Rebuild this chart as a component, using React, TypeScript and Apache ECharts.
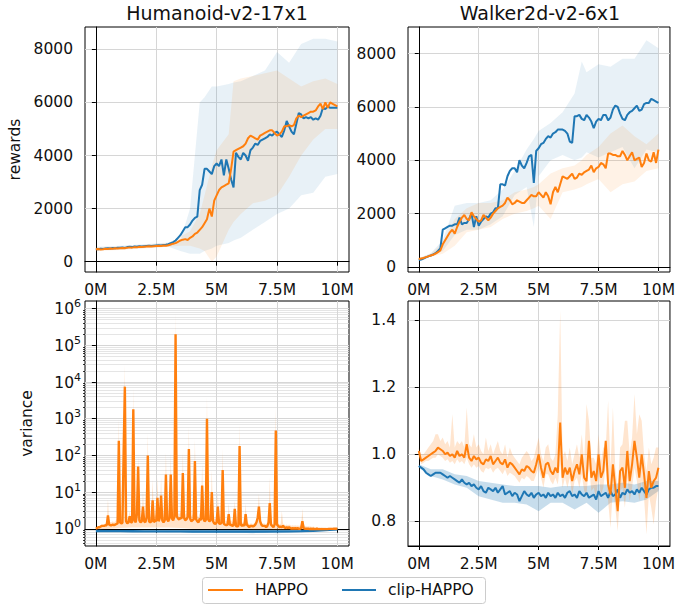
import React, { useEffect, useRef } from 'react';
import * as echarts from 'echarts';

const ORANGE = '#ff7f0e';
const BLUE = '#1f77b4';
const FONT = 'DejaVu Sans';

// ---------- shared tick labels ----------
const xTicks = [0, 2.5, 5, 7.5, 10];
const rewardTicks = [0, 2000, 4000, 6000, 8000];
const logTicks = [0, 1, 2, 3, 4, 5, 6];
const linVarTicks = [0.8, 1.0, 1.2, 1.4];

// x grids (in millions of steps)
const x101 = Array.from({ length: 101 }, (_, i) => +(i * 0.1).toFixed(2));
const x201 = Array.from({ length: 201 }, (_, i) => +(i * 0.05).toFixed(2));
const x21 = Array.from({ length: 21 }, (_, i) => +(i * 0.5).toFixed(2));

// ---------- Humanoid rewards ----------
const humClip = [
  480, 470, 490, 480, 500, 510, 500, 520, 510, 530,
  530, 540, 520, 550, 560, 550, 570, 560, 580, 570,
  580, 590, 600, 590, 600, 610, 620, 610, 630, 640,
  660, 700, 740, 800, 900, 1000, 1150, 1300, 1300, 1400,
  1550, 1650, 1700, 2700, 2900, 3500, 3500, 3400, 3300, 3600,
  3700, 3600, 3850, 3250, 3850, 3500, 3100, 2800, 4100, 3950,
  3850, 4100, 4000, 3800, 4200, 4300, 4450, 4400, 4550, 4600,
  4650, 4700, 4800, 4750, 4850, 4900, 4800, 4700, 4950, 5300,
  5100, 4900, 4800, 5200, 5600, 5550, 5400, 5450, 5400, 5450,
  5350, 5400, 5350, 5500, 5800, 5750, 5850, 5800, 5800, 5800,
  5800,
];
const humHappo = [
  470, 480, 460, 470, 490, 480, 500, 490, 510, 500,
  510, 520, 510, 530, 540, 530, 550, 540, 560, 550,
  560, 570, 580, 570, 580, 590, 600, 590, 610, 600,
  620, 650, 680, 700, 750, 800, 830, 850, 820, 900,
  950, 1050, 1100, 1200, 1300, 1450, 1600, 2000, 1700, 2300,
  2500, 2700, 2800, 2850, 2900, 2950, 3500, 4150, 4200, 4250,
  4300, 4350, 4450, 4650, 4750, 4700, 4650, 4600, 4750, 4800,
  4850, 4900, 4950, 4950, 4850, 4750, 4800, 4900, 5100, 5100,
  5150, 5100, 5150, 5400, 5500, 5450, 5500, 5550, 5600, 5650,
  5650, 5700, 5850, 5950, 5750, 6000, 5800, 6000, 5950, 5900,
  5850,
];
const humBandX = [0, 1, 2, 3, 3.5, 3.9, 4.3, 4.5, 4.8, 5, 5.5, 5.7, 6, 6.5, 7, 7.5, 8, 8.5, 9, 9.5, 10];
const humClipUp = [560, 600, 660, 720, 800, 2000, 6000, 6200, 6600, 6600, 6700, 6750, 6800, 7000, 7200, 7900, 7500, 8200, 8400, 8400, 8300];
const humClipLo = [420, 460, 520, 560, 400, 300, 300, 400, 500, 600, 700, 800, 900, 1200, 1500, 1800, 2000, 2500, 2600, 3200, 3300];
const humHappoUp = [540, 560, 640, 700, 950, 1150, 1800, 2500, 3600, 4200, 4800, 6800, 6900, 7000, 7100, 7200, 6900, 6600, 6800, 6900, 6700];
const humHappoLo = [400, 440, 500, 560, 600, 600, 500, 400, 0, 200, 1200, 1500, 1800, 2200, 2300, 2500, 3200, 4000, 4600, 5000, 5000];

// ---------- Walker2d rewards ----------
const walkClip = [
  260, 280, 320, 360, 400, 430, 470, 520, 600, 700,
  1400, 1450, 1500, 1550, 1550, 1600, 1600, 1850, 1600, 1650,
  1650, 1800, 2000, 1500, 1900, 1550, 1700, 1800, 1900, 1850,
  2000, 2050, 2200, 2200, 3100, 3100, 3050, 3400, 3600, 3700,
  3700, 3550, 4000, 3800, 3700, 3900, 4150, 4200, 3150, 4350,
  4450, 4600, 4650, 4800, 4900, 4850, 5000, 5050, 5150, 5150,
  5150, 5100, 5000, 4700, 4650, 5650, 5650, 5700, 5550, 5500,
  5700, 5600, 5450, 5200, 5450, 5550, 5500, 5700, 5700, 5500,
  5600, 5900, 6050, 6000, 5750, 5550, 5500, 5700, 5800, 5850,
  5950, 6050, 5850, 5900, 6100, 6150, 6150, 6300, 6250, 6200,
  6150,
];
const walkHappo = [
  300, 320, 340, 370, 400, 430, 460, 500, 560, 620,
  850, 1000, 1150, 1300, 1400, 1250, 1500, 1700, 1850, 1950,
  1800, 1750, 2050, 1900, 1800, 1700, 1750, 1950, 1850, 1750,
  1850, 2000, 2100, 2200, 2250, 2300, 2400, 2600, 2500, 2350,
  2400, 2500, 2450, 2400, 2400, 2500, 2600, 2700, 2650, 2650,
  2800, 2700, 2600, 2800, 2650, 2350, 2800, 3000, 2800, 3100,
  3400, 3350, 3300, 3400, 3500, 3300, 3350, 3500, 3450, 3550,
  3600, 3650, 3800, 3550, 3700, 3750, 3900, 3850, 3700, 4250,
  4250, 4200, 4200, 4150, 4150, 4350, 4200, 4000, 4150, 4300,
  4000, 4050, 4100, 3750, 3900, 4250, 4000, 3950, 4300, 3900,
  4400,
];
const walkBandX = [0, 0.5, 1.0, 1.5, 2.0, 2.5, 3.0, 3.5, 4.0, 4.5, 4.8, 5.0, 5.5, 6.0, 6.5, 6.8, 7.0, 7.5, 8.0, 8.5, 9.0, 9.5, 10.0];
const walkClipUp = [320, 520, 1000, 2300, 2400, 2400, 2500, 2900, 3600, 4400, 4800, 5100, 5400, 5800, 6500, 7700, 7300, 7600, 7500, 7800, 7800, 8500, 8200];
const walkClipLo = [240, 400, 600, 1200, 1400, 1400, 1600, 1900, 2700, 3000, 1500, 3400, 4000, 4200, 4000, 4100, 4300, 4100, 4300, 4500, 3700, 4400, 4300];
const walkHappoUp = [340, 500, 900, 1800, 2200, 2400, 2400, 2500, 2800, 2900, 3000, 3100, 3500, 3700, 3800, 4000, 4200, 4500, 5000, 5300, 4900, 4600, 5000];
const walkHappoLo = [280, 380, 500, 800, 1300, 1400, 1500, 1800, 2000, 2100, 2200, 2300, 1800, 2800, 2900, 3000, 3100, 3300, 2800, 3100, 3200, 3600, 3700];

// ---------- Humanoid variance (log scale), x step 0.05M ----------
const hvHappo = [
  1.0, 1.05, 1.1, 1.1, 1.15, 1.2, 1.2, 1.2, 1.25, 1.25,
  2.3, 1.3, 1.25, 1.25, 1.3, 1.25, 1.3, 1.35, 1.4, 250,
  1.5, 1.4, 1.45, 120, 7500, 1.6, 1.4, 1.5, 2.2, 1.5,
  1.5, 1800, 1.7, 1.5, 2.5, 50, 1.7, 1.5, 1.6, 4.0,
  1.6, 1.5, 2.0, 100, 1.6, 1.5, 1.6, 6.0, 1.5, 1.7,
  1.6, 7.0, 1.6, 2.0, 8.0, 1.7, 1.5, 1.7, 30, 1.8,
  1.6, 2.0, 30, 1.9, 1.7, 2.1, 200000, 2.2, 1.9, 1.8,
  2.0, 1.9, 33, 2.0, 1.7, 1.8, 2.1, 150, 1.9, 1.6,
  1.7, 1.8, 70, 1.8, 1.6, 1.5, 1.9, 1.7, 15, 1.9,
  1.6, 1.7, 1000, 1.8, 1.6, 1.7, 10, 1.6, 1.4, 1.35,
  1.5, 4.0, 1.4, 1.35, 1.45, 40, 1.35, 1.3, 1.25, 1.3,
  2.5, 1.25, 1.3, 1.2, 1.25, 3.5, 1.2, 1.15, 1.2, 180,
  1.3, 1.2, 1.3, 1.2, 2.5, 1.3, 1.2, 1.1, 1.2, 1.2,
  1.15, 1.2, 1.3, 1.5, 2.0, 4.0, 1.6, 1.3, 1.2, 1.2,
  1.2, 1.1, 1.2, 1.5, 5.0, 1.3, 1.2, 1.1, 1.3, 480,
  1.3, 1.2, 1.1, 1.15, 1.1, 1.2, 1.1, 1.05, 1.1, 1.05,
  1.1, 1.05, 1.0, 1.05, 1.0, 1.05, 1.0, 1.05, 1.0, 1.0,
  1.05, 1.6, 1.05, 1.0, 1.0, 1.0, 1.0, 0.98, 1.0, 0.98,
  1.0, 0.98, 0.98, 1.0, 0.98, 0.98, 0.98, 0.98, 0.98, 0.98,
  0.98, 0.98, 0.98, 0.99, 0.99, 0.99, 0.99, 1.0, 1.0, 1.0,
  1.0,
];
const hvHappoUp = [
  1.05, 1.1, 1.15, 1.2, 1.25, 1.3, 1.3, 1.35, 1.4, 1.45,
  6.3, 1.6, 1.5, 1.5, 1.6, 1.5, 1.6, 1.8, 1.9, 1000,
  2.0, 1.8, 1.9, 160, 30000, 2.2, 1.9, 2.0, 3.0, 2.1,
  2.2, 7000, 2.4, 2.0, 3.5, 100, 2.4, 2.0, 2.2, 10,
  2.2, 2.0, 2.8, 400, 2.2, 2.0, 2.2, 22, 2.0, 2.4,
  2.2, 25, 2.2, 2.8, 25, 2.3, 2.0, 2.4, 120, 2.6,
  2.2, 2.8, 120, 2.7, 2.4, 3.0, 800000, 3.2, 2.7, 2.5,
  2.8, 2.7, 120, 2.8, 2.4, 2.6, 3.0, 600, 2.7, 2.2,
  2.4, 2.6, 280, 2.6, 2.2, 2.1, 2.7, 2.4, 60, 2.7,
  2.2, 2.4, 4000, 2.6, 2.3, 2.5, 40, 2.2, 1.9, 1.8,
  2.0, 10, 1.9, 1.8, 1.9, 150, 1.8, 1.7, 1.6, 1.7,
  5.0, 1.6, 1.7, 1.5, 1.6, 6.0, 1.5, 1.45, 1.5, 700,
  1.5, 1.45, 1.5, 1.45, 5.0, 1.5, 1.45, 1.35, 1.4, 1.4,
  1.35, 1.4, 1.5, 1.7, 2.5, 9.0, 1.9, 1.5, 1.4, 1.4,
  1.4, 1.3, 1.4, 1.9, 25, 1.5, 1.4, 1.3, 1.5, 2000,
  1.5, 1.4, 1.3, 1.35, 3.0, 1.4, 1.3, 1.25, 1.3, 1.25,
  1.3, 1.25, 1.2, 1.25, 1.2, 1.25, 1.2, 1.22, 1.2, 1.2,
  1.22, 3.5, 1.22, 1.2, 1.18, 1.15, 1.18, 1.15, 1.15, 1.12,
  1.15, 1.12, 1.1, 1.12, 1.1, 1.1, 1.08, 1.1, 1.08, 1.08,
  1.08, 1.06, 1.08, 1.06, 1.06, 1.06, 1.05, 1.05, 1.04, 1.04,
  1.03,
];
const hvHappoLo = [0.95, 1.0, 1.05, 1.08, 1.08, 1.08, 1.08, 1.05, 1.0, 1.0, 1.0, 1.0, 1.0, 0.95, 0.95, 0.92, 0.92, 0.92, 0.92, 0.93, 0.95];
const hvClip = [0.87, 0.86, 0.86, 0.855, 0.85, 0.85, 0.85, 0.85, 0.845, 0.845, 0.845, 0.84, 0.84, 0.84, 0.845, 0.85, 0.85, 0.86, 0.88, 0.92, 0.97];
const hvClipUp = [0.9, 0.89, 0.89, 0.88, 0.88, 0.88, 0.88, 0.88, 0.88, 0.87, 0.87, 0.87, 0.87, 0.87, 0.88, 0.88, 0.88, 0.89, 0.9, 0.94, 0.98];
const hvClipLo = [0.85, 0.82, 0.82, 0.82, 0.81, 0.81, 0.8, 0.8, 0.79, 0.79, 0.78, 0.78, 0.78, 0.76, 0.79, 0.76, 0.79, 0.8, 0.84, 0.9, 0.96];

// ---------- Walker2d variance (linear), x step 0.1M ----------
const wvHappo = [
  1.01, 0.98, 0.985, 0.99, 0.995, 1.0, 1.005, 1.01, 1.02, 1.015,
  1.01, 1.0, 1.005, 0.995, 1.0, 0.99, 1.01, 0.995, 1.0, 0.99,
  1.03, 0.99, 0.98, 0.995, 0.985, 0.99, 0.975, 0.97, 0.985, 0.98,
  0.995, 0.97, 0.98, 0.99, 0.975, 0.97, 0.985, 0.96, 0.975, 0.97,
  0.96, 0.95, 0.94, 0.955, 0.95, 0.965, 0.96, 0.95, 0.945, 0.97,
  1.0, 0.96, 0.93, 0.97, 0.975, 0.95, 0.94, 0.96, 0.945, 1.095,
  0.93, 0.96, 0.94, 0.96, 0.92, 0.95, 0.97, 0.94, 1.0, 0.93,
  0.92, 1.04, 0.93, 0.95, 0.92, 1.0, 0.93, 0.95, 1.04, 0.91,
  0.88, 0.97, 0.9, 0.83, 0.95, 0.96, 0.9, 1.01, 0.92, 0.97,
  1.04, 0.99, 0.93, 1.0, 0.94, 0.87, 0.95, 0.9, 0.92, 0.93,
  0.96,
];
const wvHappoUp = [
  1.02, 1.0, 1.0, 1.01, 1.02, 1.03, 1.04, 1.06, 1.06, 1.04,
  1.05, 1.03, 1.04, 1.02, 1.12, 1.02, 1.04, 1.03, 1.04, 1.02,
  1.14, 1.03, 1.02, 1.06, 1.02, 1.03, 1.01, 1.0, 1.05, 1.01,
  1.03, 1.0, 1.02, 1.04, 1.01, 1.0, 1.03, 0.99, 1.02, 1.0,
  0.99, 0.98, 0.97, 0.99, 1.0, 1.01, 1.0, 0.98, 0.99, 1.02,
  1.05, 1.0, 0.98, 1.02, 1.03, 0.99, 0.98, 1.0, 1.12, 1.43,
  0.99, 1.01, 0.98, 1.02, 0.97, 1.0, 1.03, 0.99, 1.06, 0.98,
  1.15, 1.1, 0.99, 0.99, 0.97, 1.06, 0.98, 1.02, 1.02, 1.16,
  0.96, 1.14, 0.96, 0.9, 1.02, 1.03, 1.1, 1.1, 1.0, 1.05,
  1.18, 1.06, 1.12, 1.1, 1.0, 0.95, 1.02, 0.97, 0.99, 1.02,
  1.02,
];
const wvHappoLo = [
  1.0, 0.97, 0.975, 0.98, 0.98, 0.985, 0.99, 0.99, 1.0, 0.995,
  0.99, 0.98, 0.985, 0.975, 0.98, 0.97, 0.985, 0.975, 0.98, 0.97,
  0.99, 0.97, 0.96, 0.97, 0.96, 0.965, 0.95, 0.945, 0.96, 0.955,
  0.96, 0.945, 0.955, 0.96, 0.95, 0.94, 0.955, 0.935, 0.945, 0.94,
  0.935, 0.925, 0.915, 0.93, 0.925, 0.935, 0.93, 0.92, 0.92, 0.94,
  0.96, 0.93, 0.9, 0.94, 0.94, 0.92, 0.91, 0.93, 0.91, 0.97,
  0.9, 0.93, 0.9, 0.93, 0.88, 0.92, 0.93, 0.9, 0.94, 0.89,
  0.88, 0.97, 0.89, 0.9, 0.87, 0.94, 0.88, 0.9, 0.97, 0.86,
  0.78, 0.9, 0.84, 0.77, 0.89, 0.9, 0.84, 0.93, 0.86, 0.9,
  0.96, 0.92, 0.86, 0.92, 0.87, 0.76, 0.88, 0.84, 0.79, 0.86,
  0.9,
];
const wvClip = [
  0.965, 0.96, 0.955, 0.945, 0.94, 0.935, 0.94, 0.945, 0.945, 0.945,
  0.94, 0.935, 0.93, 0.935, 0.93, 0.925, 0.92, 0.915, 0.925, 0.915,
  0.91, 0.915, 0.905, 0.91, 0.9, 0.895, 0.905, 0.89, 0.885, 0.9,
  0.895, 0.89, 0.9, 0.885, 0.895, 0.905, 0.88, 0.885, 0.89, 0.875,
  0.885, 0.88, 0.86, 0.875, 0.89, 0.88, 0.875, 0.885, 0.87, 0.88,
  0.885, 0.875, 0.88, 0.87, 0.885, 0.875, 0.88, 0.87, 0.885, 0.875,
  0.88, 0.87, 0.885, 0.89, 0.875, 0.88, 0.87, 0.89, 0.88, 0.875,
  0.885, 0.87, 0.875, 0.88, 0.865, 0.89, 0.875, 0.88, 0.885, 0.87,
  0.89, 0.875, 0.88, 0.895, 0.87, 0.885, 0.88, 0.895, 0.885, 0.89,
  0.88, 0.895, 0.885, 0.9, 0.89, 0.88, 0.895, 0.9, 0.9, 0.905,
  0.905,
];
const wvClipUp = [0.97, 0.955, 0.955, 0.94, 0.935, 0.92, 0.915, 0.91, 0.905, 0.905, 0.905, 0.9, 0.905, 0.905, 0.905, 0.91, 0.91, 0.915, 0.91, 0.92, 0.92];
const wvClipLo = [0.96, 0.935, 0.925, 0.91, 0.9, 0.875, 0.865, 0.855, 0.855, 0.85, 0.83, 0.855, 0.855, 0.835, 0.855, 0.825, 0.855, 0.86, 0.855, 0.865, 0.89];

// ---------- helpers ----------
const ident = (v: number) => v;
const lg = (v: number) => Math.log10(v);

function band(axis: number, yAxis: number, upX: number[], up: number[], loX: number[], lo: number[], color: string, opacity: number, tf = ident) {
  return {
    type: 'custom',
    xAxisIndex: axis,
    yAxisIndex: yAxis,
    silent: true,
    clip: true,
    data: upX.map((x, i) => [x, tf(up[i])]),
    encode: { x: 0, y: 1 },
    renderItem: (params: any, api: any) => {
      if (params.dataIndex !== 0) return null;
      const pts: number[][] = [];
      for (let i = 0; i < upX.length; i++) pts.push(api.coord([upX[i], tf(up[i])]));
      for (let i = loX.length - 1; i >= 0; i--) pts.push(api.coord([loX[i], tf(lo[i])]));
      return { type: 'polygon', shape: { points: pts }, style: { fill: color, opacity } };
    },
  };
}

function line(axis: number, yAxis: number, xs: number[], ys: number[], color: string, name: string, tf = ident, width = 2) {
  return {
    type: 'line',
    name,
    xAxisIndex: axis,
    yAxisIndex: yAxis,
    data: xs.map((x, i) => [x, tf(ys[i])]),
    showSymbol: false,
    symbol: 'none',
    clip: true,
    lineStyle: { color, width },
    itemStyle: { color },
  };
}

const GRID_COLOR = '#d6d6d6';
const TEXT_COLOR = '#111';

function xAxisCfg(gridIndex: number) {
  return {
    type: 'value',
    gridIndex,
    min: -0.45,
    max: 10.48,
    axisLine: { show: true, lineStyle: { color: '#000', width: 1 } },
    axisTick: { show: true, inside: false, length: 4, customValues: xTicks, lineStyle: { color: '#000', width: 1 } },
    axisLabel: {
      customValues: xTicks,
      formatter: (v: number) => `${v}M`,
      fontFamily: FONT,
      fontSize: 15.5,
      color: TEXT_COLOR,
      margin: 10,
    },
    splitLine: { show: true, lineStyle: { color: GRID_COLOR, width: 1 } },
  };
}

function yAxisCfg(gridIndex: number, min: number, max: number, ticks: number[], formatter: any, extra: any = {}) {
  return {
    type: 'value',
    gridIndex,
    min,
    max,
    axisLine: { show: true, lineStyle: { color: '#000', width: 1 } },
    axisTick: { show: true, inside: false, length: 4, customValues: ticks, lineStyle: { color: '#000', width: 1 } },
    axisLabel: {
      customValues: ticks,
      formatter,
      fontFamily: FONT,
      fontSize: 15.5,
      color: TEXT_COLOR,
      margin: 12,
    },
    splitLine: { show: true, lineStyle: { color: GRID_COLOR, width: 1 } },
    nameTextStyle: { fontFamily: FONT, fontSize: 15.5, color: TEXT_COLOR },
    ...extra,
  };
}

const LOG_MIN = -0.47;
const LOG_MAX = 6.21;
const minorLog: number[] = [];
for (let n = -1; n <= 6; n++) {
  for (let k = 2; k <= 9; k++) {
    const v = Math.log10(k) + n;
    if (v > LOG_MIN && v < LOG_MAX) minorLog.push(v);
  }
}

export default function App() {
  const ref = useRef<HTMLDivElement>(null);
  useEffect(() => {
    if (!ref.current) return;
    const chart = echarts.init(ref.current, undefined, { renderer: 'svg' });
    const grids = [
      { left: 85, top: 27, width: 264, height: 245 },
      { left: 408, top: 27, width: 264, height: 245 },
      { left: 85, top: 301, width: 264, height: 245 },
      { left: 408, top: 301, width: 264, height: 245 },
    ].map((g) => ({ ...g, show: true, borderColor: '#000', borderWidth: 1, backgroundColor: 'transparent', containLabel: false }));

    const option: any = {
      animation: false,
      textStyle: { fontFamily: FONT },
      grid: grids,
      xAxis: [xAxisCfg(0), xAxisCfg(1), xAxisCfg(2), xAxisCfg(3)],
      yAxis: [
        yAxisCfg(0, -388, 8843, rewardTicks, (v: number) => `${v}`, { name: 'rewards', nameLocation: 'middle', nameGap: 62 }),
        yAxisCfg(1, -187, 8993, rewardTicks, (v: number) => `${v}`),
        {
          ...yAxisCfg(2, LOG_MIN, LOG_MAX, logTicks, (v: number) => `{b|10}{s|${Math.round(v)}}`, { name: 'variance', nameLocation: 'middle', nameGap: 50 }),
          axisLabel: {
            customValues: logTicks,
            formatter: (v: number) => `{b|10}{s|${Math.round(v)}}`,
            margin: 4,
            rich: {
              b: { fontFamily: FONT, fontSize: 15.5, color: TEXT_COLOR, lineHeight: 17, verticalAlign: 'bottom' },
              s: { fontFamily: FONT, fontSize: 11, color: TEXT_COLOR, lineHeight: 12, verticalAlign: 'bottom', padding: [0, 0, 8, 0] },
            },
          },
        },
        yAxisCfg(3, 0.726, 1.458, linVarTicks, (v: number) => v.toFixed(1)),
        {
          type: 'value',
          gridIndex: 2,
          min: LOG_MIN,
          max: LOG_MAX,
          position: 'left',
          axisLine: { show: false },
          axisTick: { show: true, inside: false, length: 2, customValues: minorLog, lineStyle: { color: '#000', width: 0.8 } },
          axisLabel: { show: false, customValues: minorLog },
          splitLine: { show: true, lineStyle: { color: '#dedede', width: 0.8 } },
        },
      ],
      series: [
        // Humanoid rewards
        band(0, 0, humBandX, humClipUp, humBandX, humClipLo, BLUE, 0.1),
        line(0, 0, x101, humClip, BLUE, 'clip-HAPPO'),
        band(0, 0, humBandX, humHappoUp, humBandX, humHappoLo, ORANGE, 0.1),
        line(0, 0, x101, humHappo, ORANGE, 'HAPPO'),
        // Walker rewards
        band(1, 1, walkBandX, walkClipUp, walkBandX, walkClipLo, BLUE, 0.1),
        line(1, 1, x101, walkClip, BLUE, 'clip-HAPPO'),
        band(1, 1, walkBandX, walkHappoUp, walkBandX, walkHappoLo, ORANGE, 0.1),
        line(1, 1, x101, walkHappo, ORANGE, 'HAPPO'),
        // Humanoid variance (log)
        band(2, 2, x21, hvClipUp, x21, hvClipLo, BLUE, 0.3, lg),
        line(2, 2, x21, hvClip, BLUE, 'clip-HAPPO', lg, 2.4),
        band(2, 2, x201, hvHappoUp, x21, hvHappoLo, ORANGE, 0.22, lg),
        line(2, 2, x201, hvHappo, ORANGE, 'HAPPO', lg, 2.4),
        // Walker variance
        band(3, 3, x21, wvClipUp, x21, wvClipLo, BLUE, 0.25),
        line(3, 3, x101, wvClip, BLUE, 'clip-HAPPO'),
        band(3, 3, x101, wvHappoUp, x101, wvHappoLo, ORANGE, 0.2),
        line(3, 3, x101, wvHappo, ORANGE, 'HAPPO'),
      ],
      graphic: [
        { type: 'text', x: 217, y: 13, style: { text: 'Humanoid-v2-17x1', font: `19px "${FONT}"`, fill: TEXT_COLOR, textAlign: 'center', textVerticalAlign: 'middle' } },
        { type: 'text', x: 540, y: 13, style: { text: 'Walker2d-v2-6x1', font: `19px "${FONT}"`, fill: TEXT_COLOR, textAlign: 'center', textVerticalAlign: 'middle' } },
        { type: 'rect', shape: { x: 202.5, y: 577.5, width: 283, height: 26, r: 3 }, style: { fill: '#fff', stroke: '#cccccc', lineWidth: 1 } },
        { type: 'line', shape: { x1: 208, y1: 590, x2: 243, y2: 590 }, style: { stroke: ORANGE, lineWidth: 2 } },
        { type: 'text', x: 255, y: 590, style: { text: 'HAPPO', font: `15.5px "${FONT}"`, fill: TEXT_COLOR, textAlign: 'left', textVerticalAlign: 'middle' } },
        { type: 'line', shape: { x1: 342, y1: 590, x2: 376, y2: 590 }, style: { stroke: BLUE, lineWidth: 2 } },
        { type: 'text', x: 388, y: 590, style: { text: 'clip-HAPPO', font: `15.5px "${FONT}"`, fill: TEXT_COLOR, textAlign: 'left', textVerticalAlign: 'middle' } },
      ],
    };
    chart.setOption(option);
    return () => chart.dispose();
  }, []);
  return <div ref={ref} style={{ position: 'absolute', left: 0, top: 0, width: 678, height: 605 }} />;
}
